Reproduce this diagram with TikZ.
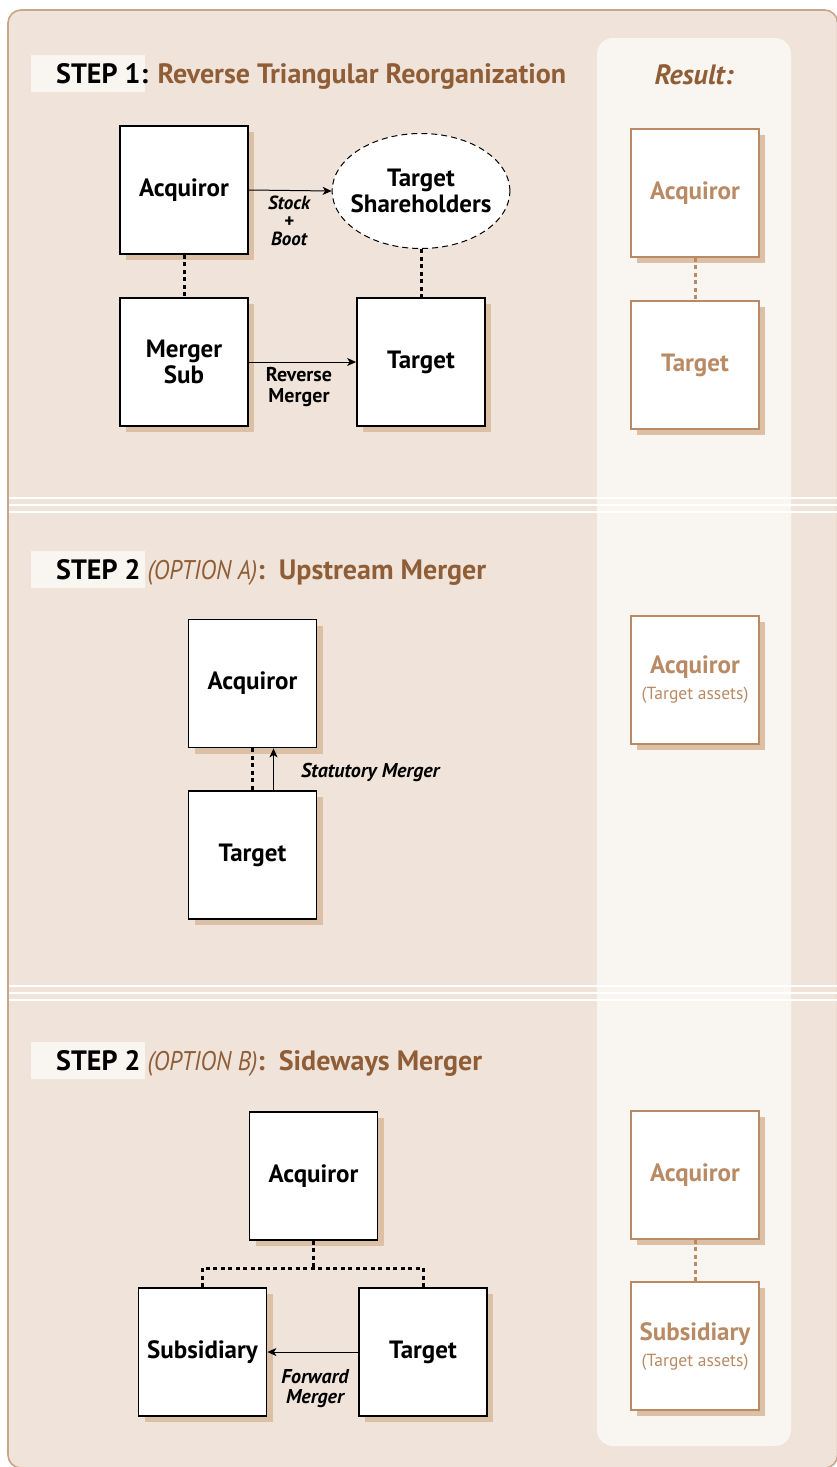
\documentclass[tikz,border=0pt]{standalone}
\usepackage{fontspec}
\setmainfont{PT Sans}
\newfontfamily\condfont[FakeStretch=1.0]{PT Sans}
\newfontfamily\optfont[FakeStretch=0.88]{PT Sans}
\usetikzlibrary{arrows.meta,shapes.geometric,shadows}

\definecolor{framebg}{HTML}{F0E3DA}
\definecolor{framec}{HTML}{C9A68A}
\definecolor{panelbg}{HTML}{F9F5F0}
\definecolor{brownc}{HTML}{8F5D36}
\definecolor{tanc}{HTML}{B98A63}
\definecolor{shadowc}{HTML}{DCC0A6}

\newcommand\boxfont{\fontsize{25}{26}\selectfont\bfseries}
\newcommand\titlefont{\condfont\bfseries\fontsize{28}{30}\selectfont}
\newcommand\optionfont{\optfont\mdseries\itshape\fontsize{27}{30}\selectfont}
\newcommand\lblfont{\fontsize{19}{18}\selectfont\bfseries}
\newcommand\notefont{\fontsize{17.5}{18}\selectfont\mdseries}

\begin{document}
\begin{tikzpicture}[x=1pt,y=-1pt,
  box/.style={draw=black, line width=1.8, fill=white,
    minimum width=128, minimum height=128, inner sep=0, align=center,
    font=\boxfont,
    drop shadow={shadow xshift=6pt, shadow yshift=-6pt, fill=shadowc, opacity=1}},
  rbox/.style={box, draw=tanc, line width=1.5, text=tanc},
  dots/.style={line width=3, dash pattern=on 4 off 3.5},
  rdots/.style={dots, draw=tanc},
  flow/.style={line width=1, -{Stealth[length=9, width=8, inset=2.5]}},
  lbl/.style={align=center, font=\lblfont, inner sep=0},
  title/.style={anchor=base west, inner sep=0, font=\titlefont}
]
\useasboundingbox (0,0) rectangle (837,1467);
\clip (0,0) rectangle (837,1467);

% frame and result panel
\draw[framec, line width=1.6, fill=framebg, rounded corners=13] (8,10) rectangle (837.6,1468);
\fill[panelbg, rounded corners=16] (597,38) rectangle (791,1446);

% section separators
\foreach \yy in {498,505,512,986,993,1000}
  \draw[white, line width=2] (8.8,\yy) -- (837,\yy);

% section titles
\fill[panelbg] (31,55) rectangle (145,92);
\fill[panelbg] (31,551) rectangle (145,588);
\fill[panelbg] (31,1042) rectangle (145,1079);
\node[title] (t1) at (56,83) {STEP 1: \textcolor{brownc}{Reverse Triangular Reorganization}};
\node[title] (t2) at (56,579) {STEP 2 \textcolor{brownc}{{\optionfont (OPTION A)}:\enspace Upstream Merger}};
\node[title] (t3) at (56,1070) {STEP 2 \textcolor{brownc}{{\optionfont (OPTION B)}:\enspace Sideways Merger}};
\node[font=\titlefont\itshape, text=brownc, inner sep=0] (res) at (694,75) {Result:};

% step 1
\node[box] (acq1) at (184,190) {Acquiror};
\node[box] (msub) at (184,362) {Merger\\Sub};
\node[box] (tgt1) at (421,362) {Target};
\node[ellipse, draw=black, dash pattern=on 6 off 4, line width=1, fill=white,
  minimum height=115, inner xsep=-7.5pt, inner ysep=0pt, align=center, font=\boxfont]
  (tsh) at (421,191) {Target\\Shareholders};
\draw[flow] (acq1.east) -- (tsh.west);
\node[lbl, font=\lblfont\itshape] (sb) at (289,221) {Stock\\+\\Boot};
\draw[dots] (acq1.south) -- (msub.north);
\draw[dots] (tsh.south) -- (tgt1.north);
\draw[flow] (msub.east) -- (tgt1.west);
\node[lbl, font=\fontsize{20}{21}\selectfont\bfseries] (rm) at (299,387) {Reverse\\Merger};

\node[rbox] (racq1) at (695,193) {Acquiror};
\node[rbox] (rtgt1) at (695,365) {Target};
\draw[rdots] (racq1.south) -- (rtgt1.north);

% step 2, option A
\node[box] (acq2) at (252.5,683.5) {Acquiror};
\node[box] (tgt2) at (252.5,855) {Target};
\draw[dots] (acq2.south) -- (tgt2.north);
\draw[flow] ([xshift=21]tgt2.north) -- ([xshift=21]acq2.south);
\node[lbl, font=\fontsize{20}{20}\selectfont\bfseries\itshape, anchor=west] (sm) at (301,772) {Statutory Merger};

\node[rbox] (racq2) at (695,680) {Acquiror\\[0pt]{\notefont (Target assets)}};

% step 2, option B
\node[box] (acq3) at (313.5,1176) {Acquiror};
\node[box] (sub3) at (202.5,1352) {Subsidiary};
\node[box] (tgt3) at (423,1352) {Target};
\coordinate (j) at (313.5,1268);
\draw[dots] (acq3.south) -- (j);
\draw[dots] (sub3.north) |- (j) -| (tgt3.north);
\draw[flow] (tgt3.west) -- (sub3.east);
\node[lbl, font=\fontsize{20}{20}\selectfont\bfseries\itshape] (fm) at (315,1389) {Forward\\Merger};

\node[rbox] (racq3) at (695,1175) {Acquiror};
\node[rbox] (rsub3) at (695,1346) {Subsidiary\\[0pt]{\notefont (Target assets)}};
\draw[rdots] (racq3.south) -- (rsub3.north);
\end{tikzpicture}
\end{document}
